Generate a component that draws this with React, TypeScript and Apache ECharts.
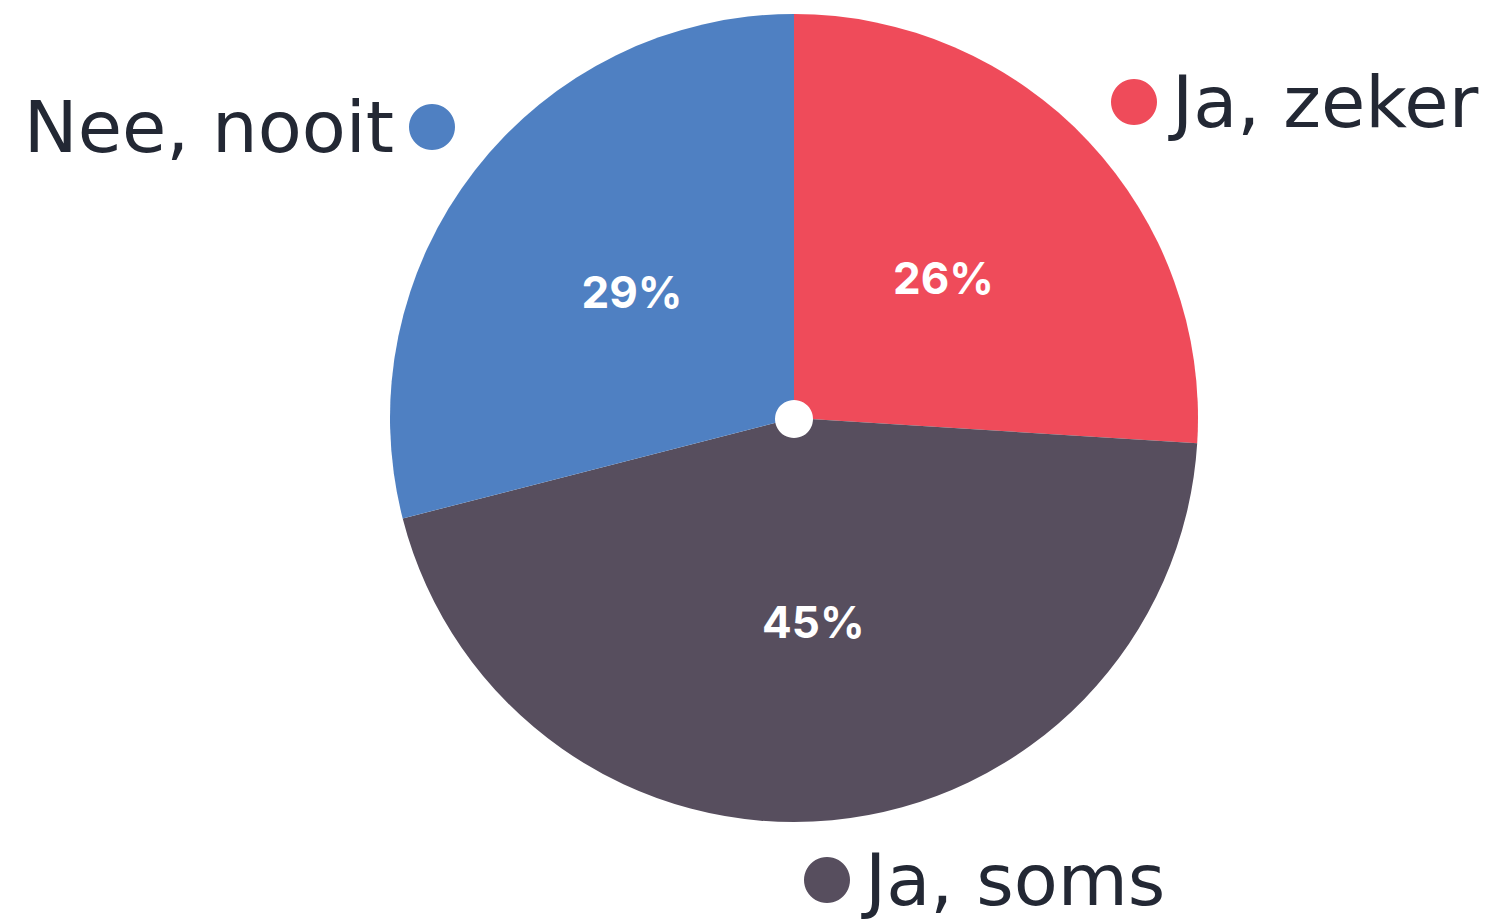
import React, { useEffect, useRef } from "react";
import * as echarts from "echarts";

const categories = ["Ja, zeker", "Ja, soms", "Nee, nooit"];
const values = [26, 45, 29];
const colors = ["#EF4B5A", "#574E5E", "#4F80C2"];

export default function App() {
  const ref = useRef<HTMLDivElement>(null);
  useEffect(() => {
    if (!ref.current) return;
    const chart = echarts.init(ref.current, undefined, { renderer: "svg" });
    const legendFont = "'DejaVu Sans', sans-serif";
    const labelFont = "Inter, 'Noto Sans', sans-serif";
    const legendBase = {
      orient: "horizontal" as const,
      icon: "circle",
      itemWidth: 46,
      itemHeight: 46,
      padding: 0,
      selectedMode: false,
      textStyle: {
        fontFamily: legendFont,
        fontSize: 72,
        color: "#232834",
      },
    };
    chart.setOption({
      animation: false,
      backgroundColor: "#ffffff",
      color: colors,
      legend: [
        {
          ...legendBase,
          data: [categories[0]],
          left: 1111,
          top: 66,
          textStyle: { ...legendBase.textStyle, padding: [0, 0, 0, 10] },
        },
        {
          ...legendBase,
          data: [categories[1]],
          left: 804,
          top: 844,
          textStyle: { ...legendBase.textStyle, padding: [0, 0, 0, 10] },
        },
        {
          ...legendBase,
          data: [categories[2]],
          align: "right",
          right: 1039,
          top: 91,
          textStyle: { ...legendBase.textStyle, padding: [0, 10, 0, 0] },
        },
      ],
      series: [
        {
          type: "pie",
          center: [794, 418],
          radius: [0, 404],
          startAngle: 90,
          clockwise: true,
          silent: true,
          label: {
            show: true,
            position: "inside",
            formatter: "{c}%",
            color: "#ffffff",
            fontFamily: labelFont,
            fontWeight: "bold",
            fontSize: 44,
          },
          labelLine: { show: false },
          data: categories.map((name, i) => ({ name, value: values[i] })),
        },
      ],
      graphic: [
        {
          type: "circle",
          shape: { cx: 794, cy: 419, r: 19 },
          style: { fill: "#ffffff" },
          z: 100,
        },
      ],
    });
    return () => chart.dispose();
  }, []);
  return (
    <div
      ref={ref}
      style={{ position: "absolute", left: 0, top: 0, width: 1494, height: 921 }}
    />
  );
}
